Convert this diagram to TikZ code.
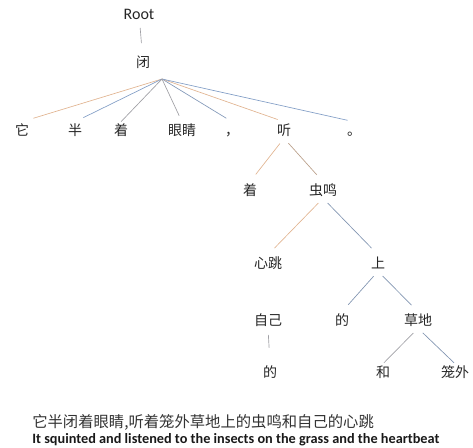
\documentclass[tikz,border=0pt]{standalone}
\usepackage{fontspec}
\setmainfont{Carlito}
\newfontfamily\cjk{Noto Sans CJK SC}
\usetikzlibrary{positioning}
\definecolor{edgeorange}{RGB}{225,180,145}
\definecolor{edgeblue}{RGB}{130,158,198}
\definecolor{edgegray}{RGB}{160,160,165}
\tikzset{
    % 词节点
    word/.style={
        font=\cjk\fontsize{10.5}{12}\selectfont,
        text height=0.88em,
        text depth=0.12em,
        inner sep=1pt,
        text=black!85
    },
    % 依存边
    depedge/.style={
        line width=0.5pt,
        shorten <=5pt,
        shorten >=7pt
    },
    fanedge/.style={
        line width=0.5pt,
        shorten >=5pt
    }
}

\begin{document}
\begin{tikzpicture}[x=0.75pt,y=-0.75pt]
	\useasboundingbox (0,0) rectangle (473,447);
	
	\node[font=\fontsize{12}{14}\selectfont,text=black!85] (root) at (139,14) {Root};
	\node[word] (bi) at (143,62) {闭};
	
	% 第一层
	\node[word] (ta) at (22,130) {它};
	\node[word] (ban) at (75,130) {半};
	\node[word] (zhea) at (121,130) {着};
	\node[word] (yanjing) at (182,130) {眼睛};
	\node[word] (dou) at (232,130) {，};
	\node[word] (ting) at (284,130) {听};
	\node[word] (ju) at (354,130) {。};
	
	% 下面几层
	\node[word] (zheb) at (250,190) {着};
	\node[word] (chongming) at (323,190) {虫鸣};
	\node[word] (xintiao) at (268,263) {心跳};
	\node[word] (shang) at (378,263) {上};
	\node[word] (ziji) at (268,320) {自己};
	\node[word] (dea) at (342,320) {的};
	\node[word] (caodi) at (418,320) {草地};
	\node[word] (deb) at (270,372) {的};
	\node[word] (he) at (383,372) {和};
	\node[word] (longwai) at (455,372) {笼外};
	
	\path (162,79) coordinate (bihub);
	
	% 连线
	\draw[line width=0.5pt,edgegray,shorten <=3pt,shorten >=8pt] (root) -- (bi);
	\draw[fanedge,edgeorange,shorten >=9pt] (bihub) -- (ta.north);
	\draw[fanedge,edgeblue,shorten >=7pt] (bihub) -- (ban.north);
	\draw[fanedge,edgegray,shorten >=0pt] (bihub) -- (zhea.north);
	\draw[fanedge,edgegray] (bihub) -- (yanjing.north);
	\draw[fanedge,edgeblue!80!gray] (bihub) -- (dou.north);
	\draw[fanedge,edgeorange] (bihub) -- (ting.north);
	\draw[fanedge,edgeblue] (bihub) -- (ju.north);
	
	\draw[depedge,edgeorange] (ting.south) -- (zheb.north);
	\draw[depedge,edgeorange!60!gray] (ting.south) -- (chongming.north);
	\draw[depedge,edgeorange] (chongming.south) -- (xintiao.north);
	\draw[depedge,edgeblue!70!gray] (chongming.south) -- (shang.north);
	\draw[depedge,edgeblue!70!gray] (shang.south) -- (dea.north);
	\draw[depedge,edgeblue!70!gray] (shang.south) -- (caodi.north);
	\draw[depedge,edgegray,shorten >=12pt] (ziji.south) -- (deb.north);
	\draw[depedge,edgegray,shorten >=1pt] (caodi.south) -- (he.north);
	\draw[depedge,edgeblue!70!gray,shorten >=1pt] (caodi.south) -- (longwai.north);
	
	% 句子
	\node[anchor=west,inner sep=0pt,font=\cjk\fontsize{11.5}{13}\selectfont,text=black!80] (zh) at (32,422) {它半闭着眼睛,听着笼外草地上的虫鸣和自己的心跳};
	\node[anchor=west,inner sep=0pt,font=\bfseries\fontsize{10.7}{12}\selectfont,text=black!90] (en) at (32,440) {It squinted and listened to the insects on the grass and the heartbeat};
\end{tikzpicture}
\end{document}
